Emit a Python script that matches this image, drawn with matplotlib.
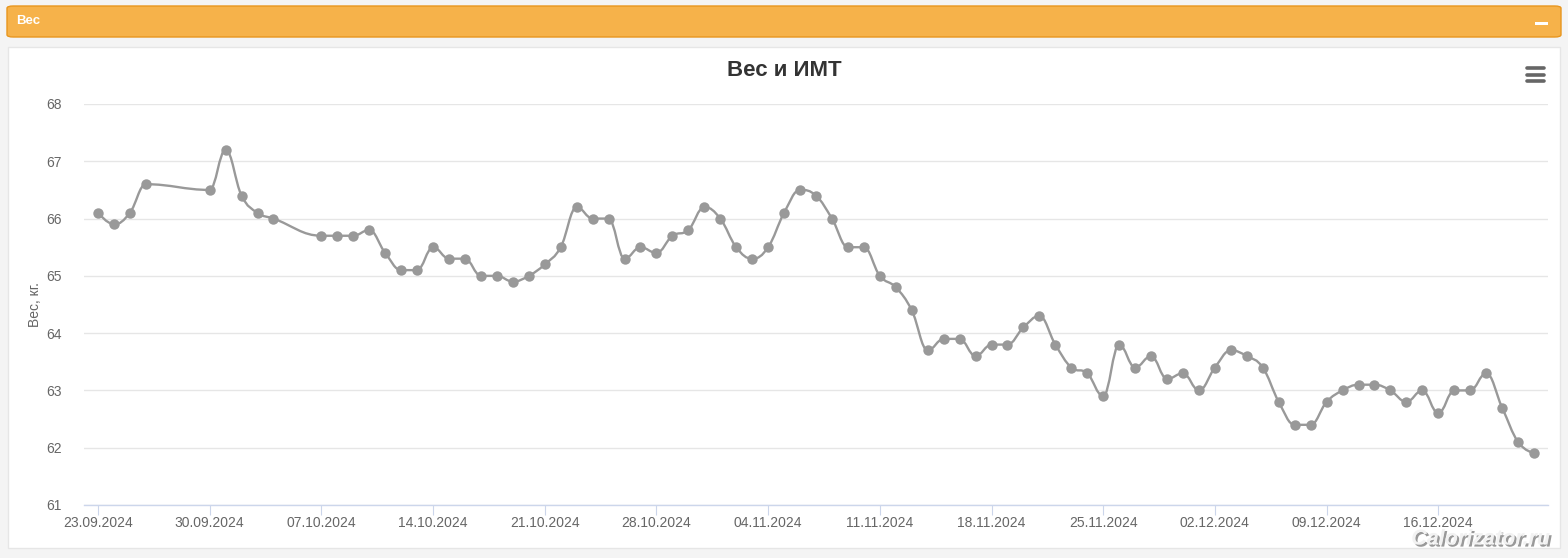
import datetime as dt
import numpy as np
import matplotlib
matplotlib.use("Agg")
import matplotlib.pyplot as plt
import matplotlib.dates as mdates
from matplotlib.path import Path
from matplotlib.patches import PathPatch, FancyBboxPatch, Rectangle
from matplotlib.lines import Line2D
import matplotlib.patheffects as pe

plt.rcParams['font.family'] = ['Liberation Sans', 'DejaVu Sans']

# data: (day, month) and weight in kg, year 2024
dates = [
    (23, 9), (24, 9), (25, 9), (26, 9), (30, 9), (1, 10), (2, 10), (3, 10), (4, 10),
    (7, 10), (8, 10), (9, 10), (10, 10), (11, 10), (12, 10), (13, 10), (14, 10),
    (15, 10), (16, 10), (17, 10), (18, 10), (19, 10), (20, 10), (21, 10), (22, 10),
    (23, 10), (24, 10), (25, 10), (26, 10), (27, 10), (28, 10), (29, 10), (30, 10),
    (31, 10), (1, 11), (2, 11), (3, 11), (4, 11), (5, 11), (6, 11), (7, 11), (8, 11),
    (9, 11), (10, 11), (11, 11), (12, 11), (13, 11), (14, 11), (15, 11), (16, 11),
    (17, 11), (18, 11), (19, 11), (20, 11), (21, 11), (22, 11), (23, 11), (24, 11),
    (25, 11), (26, 11), (27, 11), (28, 11), (29, 11), (30, 11), (1, 12), (2, 12),
    (3, 12), (4, 12), (5, 12), (6, 12), (7, 12), (8, 12), (9, 12), (10, 12), (11, 12),
    (12, 12), (13, 12), (14, 12), (15, 12), (16, 12), (17, 12), (18, 12), (19, 12),
    (20, 12), (21, 12), (22, 12),
]
weights = [
    66.1, 65.9, 66.1, 66.6, 66.5, 67.2, 66.4, 66.1, 66.0,
    65.7, 65.7, 65.7, 65.8, 65.4, 65.1, 65.1, 65.5,
    65.3, 65.3, 65.0, 65.0, 64.9, 65.0, 65.2, 65.5,
    66.2, 66.0, 66.0, 65.3, 65.5, 65.4, 65.7, 65.8,
    66.2, 66.0, 65.5, 65.3, 65.5, 66.1, 66.5, 66.4, 66.0,
    65.5, 65.5, 65.0, 64.8, 64.4, 63.7, 63.9, 63.9,
    63.6, 63.8, 63.8, 64.1, 64.3, 63.8, 63.4, 63.3,
    62.9, 63.8, 63.4, 63.6, 63.2, 63.3, 63.0, 63.4,
    63.7, 63.6, 63.4, 62.8, 62.4, 62.4, 62.8, 63.0, 63.1,
    63.1, 63.0, 62.8, 63.0, 62.6, 63.0, 63.0, 63.3,
    62.7, 62.1, 61.9,
]
tick_dates = [(23, 9), (30, 9), (7, 10), (14, 10), (21, 10), (28, 10), (4, 11),
              (11, 11), (18, 11), (25, 11), (2, 12), (9, 12), (16, 12)]
y_ticks = [61, 62, 63, 64, 65, 66, 67, 68]

x = mdates.date2num([dt.datetime(2024, m, d) for d, m in dates])
y = np.array(weights, dtype=float)
xt = mdates.date2num([dt.datetime(2024, m, d) for d, m in tick_dates])


def spline_path(xs, ys, smoothing=1.5):
    # highcharts-like spline through the points
    n = len(xs)
    denom = smoothing + 1
    verts = [(xs[0], ys[0])]
    codes = [Path.MOVETO]
    left = [None] * n
    right = [None] * n
    for i in range(n):
        if i == 0 or i == n - 1:
            left[i] = (xs[i], ys[i])
            right[i] = (xs[i], ys[i])
            continue
        lx = (smoothing * xs[i] + xs[i - 1]) / denom
        ly = (smoothing * ys[i] + ys[i - 1]) / denom
        rx = (smoothing * xs[i] + xs[i + 1]) / denom
        ry = (smoothing * ys[i] + ys[i + 1]) / denom
        if rx != lx:
            corr = ((ry - ly) * (rx - xs[i])) / (rx - lx) + ys[i] - ry
            ly += corr
            ry += corr
        if ly > max(ys[i - 1], ys[i]):
            ly = max(ys[i - 1], ys[i])
            ry = 2 * ys[i] - ly
        elif ly < min(ys[i - 1], ys[i]):
            ly = min(ys[i - 1], ys[i])
            ry = 2 * ys[i] - ly
        if ry > max(ys[i + 1], ys[i]):
            ry = max(ys[i + 1], ys[i])
            ly = 2 * ys[i] - ry
        elif ry < min(ys[i + 1], ys[i]):
            ry = min(ys[i + 1], ys[i])
            ly = 2 * ys[i] - ry
        left[i] = (lx, ly)
        right[i] = (rx, ry)
    for i in range(1, n):
        verts += [right[i - 1], left[i], (xs[i], ys[i])]
        codes += [Path.CURVE4, Path.CURVE4, Path.CURVE4]
    return Path(verts, codes)


W, H = 1568, 558
fig = plt.figure(figsize=(W / 100, H / 100), dpi=100, facecolor='#f4f4f4')


def fx(px):
    return px / W


def fy(py):
    return 1 - py / H


# orange header bar
fig.patches.append(FancyBboxPatch((fx(7), fy(37)), fx(1554), 31 / H,
                                  boxstyle="round,pad=0,rounding_size=0.004",
                                  transform=fig.transFigure, facecolor='#f6b24a',
                                  edgecolor='#e8961e', linewidth=1, zorder=0))
fig.text(fx(16), fy(21), 'Вес', color='white', fontsize=9.5, fontweight='bold',
         va='center', ha='left')
fig.patches.append(Rectangle((fx(1535), fy(25)), fx(13), 3 / H, transform=fig.transFigure,
                             facecolor='white', edgecolor='none', zorder=0.5))

# white panel
fig.patches.append(Rectangle((fx(8), fy(548)), fx(1552), 501 / H, transform=fig.transFigure,
                             facecolor='white', edgecolor='#e6e6e6', linewidth=1, zorder=0))

# hamburger menu icon
for py in (68, 75, 81):
    fig.add_artist(Line2D([fx(1527), fx(1544)], [fy(py), fy(py)], transform=fig.transFigure,
                          color='#666666', linewidth=2.6, solid_capstyle='round'))

fig.text(0.5, fy(71), 'Вес и ИМТ', ha='center', va='center', fontsize=16,
         fontweight='bold', color='#333333')

ax = fig.add_axes([fx(84), fy(505), fx(1548 - 84), 401 / H])
ax.set_zorder(2)
ax.set_facecolor('none')
ax.set_xlim(x[0] - 14 / 16, x[-1] + 14 / 16)
ax.set_ylim(61, 68)
ax.set_yticks(y_ticks)
ax.grid(axis='y', color='#e6e6e6', linewidth=1)
ax.set_axisbelow(True)
for s in ('top', 'right', 'left'):
    ax.spines[s].set_visible(False)
ax.spines['bottom'].set_color('#ccd6eb')
ax.spines['bottom'].set_linewidth(1)
ax.tick_params(axis='y', length=0, labelsize=10, labelcolor='#666666', pad=16)
ax.set_xticks(xt)
ax.xaxis.set_major_formatter(mdates.DateFormatter('%d.%m.%Y'))
ax.tick_params(axis='x', length=7, color='#ccd6eb', labelsize=10, labelcolor='#666666',
               pad=1, direction='out')
ax.set_ylabel('Вес, кг.', fontsize=10, color='#666666')
ax.yaxis.set_label_coords((42 - 84) / 1464, 0.5)

ax.add_patch(PathPatch(spline_path(x, y), facecolor='none', edgecolor='#999999',
                       linewidth=1.7, zorder=3))
ax.plot(x, y, linestyle='none', marker='o', markersize=7.5, color='#999999',
        markeredgewidth=0, zorder=4)

fig.text(fx(1550), fy(539), 'Calorizator.ru', ha='right', va='center', fontsize=15.5,
         fontweight='bold', style='italic', color='#f2f2f2', zorder=5,
         path_effects=[pe.SimplePatchShadow(offset=(1.5, -1.5), shadow_rgbFace='#555555',
                                            alpha=0.6), pe.Normal()])

fig.savefig('out.png', dpi=100, facecolor=fig.get_facecolor())
